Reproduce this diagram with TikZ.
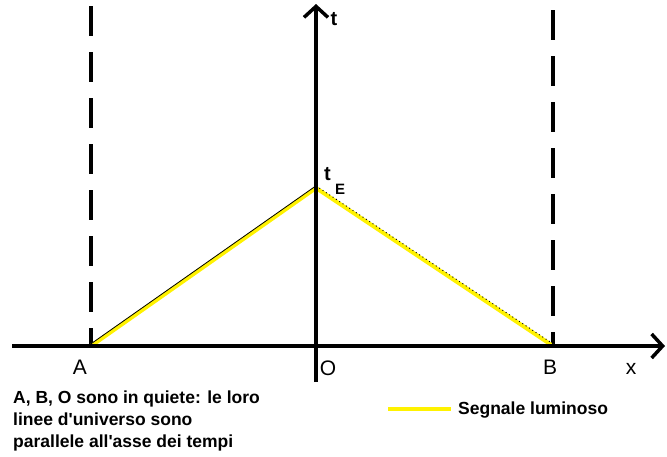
\documentclass[tikz,border=0pt]{standalone}
\usepackage{fontspec}
\setmainfont{Liberation Sans}
\usetikzlibrary{arrows.meta}

\begin{document}
\begin{tikzpicture}[x=1pt,y=-1pt,
    axis/.style={line width=3.5pt,-{Straight Barb[length=11pt,width=24pt,line width=3.5pt]}},
    worldline/.style={line width=3.5pt,dash pattern=on 30pt off 16pt},
    light/.style={yellow,line width=4pt},
    lbl/.style={font=\fontsize{21}{22}\selectfont},
    tlbl/.style={font=\bfseries\fontsize{20}{22}\selectfont},
    note/.style={font=\bfseries\fontsize{17.5}{22}\selectfont,align=left}]
        \useasboundingbox (0,0) rectangle (667,456);

        % punti sull'asse x
        \coordinate (A) at (91,346);
        \coordinate (O) at (316,346);
        \coordinate (B) at (553,346);
        \coordinate (E) at (316,188);

        % linee d'universo di A e B
        \draw[worldline] (91,6) coordinate (Atop) -- (A);
        \draw[worldline] (553,10) coordinate (Btop) -- (B);

        % segnale luminoso
        \draw[light] (A) -- (E) -- (B);
        \draw[line width=0.8pt] ([yshift=2.2pt]A) -- ([yshift=2.2pt]E);
        \draw[line width=0.9pt,dash pattern=on 1pt off 3pt] ([yshift=2.2pt]E) -- ([yshift=2.2pt]B);

        % assi
        \coordinate (xl) at (12,346);
        \coordinate (xr) at (665,346);
        \coordinate (tb) at (316,382);
        \coordinate (tt) at (316,4);
        \draw[axis] (xl) -- (xr);
        \draw[axis] (tb) -- (tt);

        \node[lbl] (labA) at (80,367) {A};
        \node[lbl] (labO) at (328,368) {O};
        \node[lbl] (labB) at (550,367) {B};
        \node[lbl] (labx) at (631,369) {x};
        \node[tlbl] (labt) at (334,19) {t};
        \node[tlbl,anchor=base west,inner sep=0pt] (labtE) at (324,180) {t};
        \node[font=\bfseries\fontsize{15}{16}\selectfont,anchor=base west,inner sep=0pt] (labE) at (335,194) {E};

        \node[note,anchor=north west,inner sep=0pt] (nota) at (13,391)
            {A, B, O sono in quiete: le loro\\linee d\textquotesingle universo sono\\parallele all\textquotesingle asse dei tempi};

        % legenda
        \coordinate (leg1) at (388,409);
        \coordinate (leg2) at (451,409);
        \draw[light] (leg1) -- (leg2);
        \node[note,anchor=west,inner sep=0pt] (legtxt) at (458,410) {Segnale luminoso};
    \end{tikzpicture}
\end{document}
